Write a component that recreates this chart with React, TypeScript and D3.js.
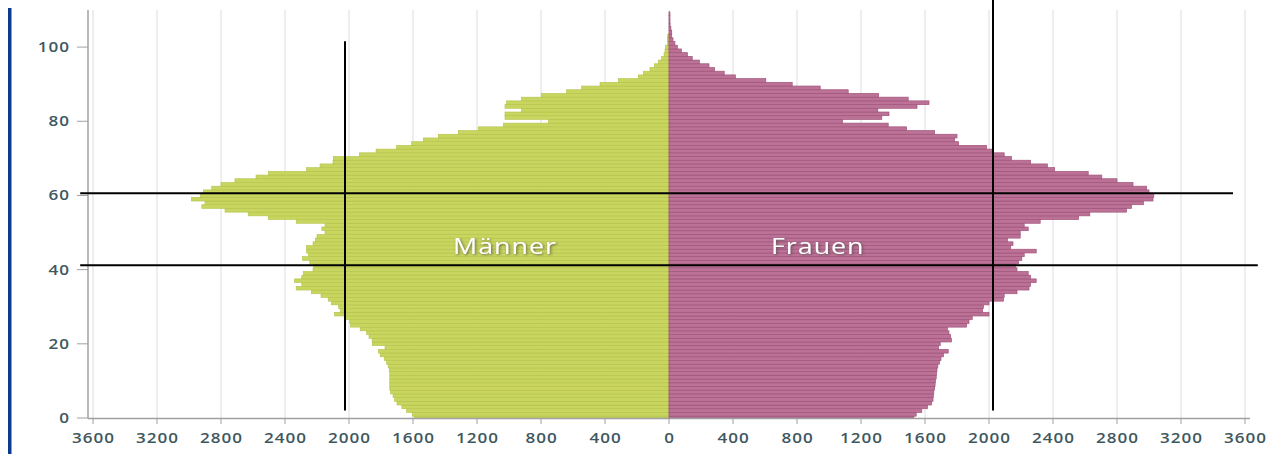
import React from "react";
import * as d3 from "d3";

// ages 0..109
const ages: number[] = Array.from({ length: 110 }, (_, i) => i);

const maenner: number[] = [
  1590, 1605, 1640, 1670, 1700, 1715, 1725, 1740, 1745, 1745,
  1745, 1745, 1745, 1748, 1755, 1765, 1780, 1805, 1815, 1775,
  1855, 1855, 1875, 1890, 1930, 1990, 1995, 2025, 2090, 2055,
  2065, 2110, 2130, 2175, 2235, 2330, 2295, 2340, 2295, 2285,
  2225, 2220, 2245, 2290, 2255, 2265, 2265, 2225, 2210, 2200,
  2150, 2170, 2150, 2330, 2505, 2630, 2775, 2920, 2900, 2985,
  2930, 2910, 2858, 2800, 2713, 2581, 2504, 2265, 2181, 2100,
  2098, 1935, 1831, 1702, 1608, 1535, 1442, 1317, 1192, 1035,
  754, 1025, 1025, 921, 1025, 1015, 921, 796, 640, 546,
  431, 317, 192, 160, 119, 92, 67, 46, 31, 25,
  21, 10, 10, 8, 0, 0, 0, 0, 0, 0,
];

const frauen: number[] = [
  1530, 1545, 1580, 1615, 1640, 1650, 1652, 1655, 1660, 1663,
  1665, 1670, 1672, 1675, 1680, 1690, 1700, 1715, 1745, 1685,
  1695, 1765, 1760, 1750, 1740, 1860, 1875, 1895, 2000, 1960,
  1965, 2000, 2090, 2095, 2175, 2250, 2260, 2295, 2260, 2245,
  2175, 2165, 2185, 2205, 2220, 2295, 2135, 2150, 2115, 2195,
  2195, 2245, 2220, 2320, 2560, 2630, 2860, 2890, 2965, 3025,
  3030, 3000, 2985, 2900, 2800, 2705, 2620, 2410, 2365, 2260,
  2140, 2095, 2020, 1985, 1810, 1785, 1800, 1660, 1485, 1370,
  1085, 1330, 1375, 1305, 1550, 1625, 1495, 1310, 1120, 945,
  770, 605, 415, 345, 285, 250, 190, 145, 115, 77,
  52, 37, 25, 17, 17, 12, 7, 6, 6, 6,
];

const xTicks: number[] = [-3600, -3200, -2800, -2400, -2000, -1600, -1200, -800, -400, 0, 400, 800, 1200, 1600, 2000, 2400, 2800, 3200, 3600];
const yTicks: number[] = [0, 20, 40, 60, 80, 100];

// annotation reference lines (data units)
const refAges: number[] = [60.6, 41.2];
const refAgeXEnds: number[][] = [[-3680, 3525], [-3680, 3680]];
const refValues: number[] = [-2025, 2025];
const refValueYEnds: number[][] = [[2, 101.6], [2, 113]];

const seriesLabels: string[] = ["Männer", "Frauen"];
const labelPos: number[][] = [[-1025, 44.2], [930, 44.2]];

export default function App() {
  const W = 1285;
  const H = 454;
  const x = d3.scaleLinear().domain([-3600, 3600]).range([93, 1245]);
  const y = d3.scaleLinear().domain([0, 110]).range([418, 10]);
  const tickColor = "#3e5861";
  const font = "'Open Sans', 'Noto Sans', sans-serif";
  const stretch = 1.22;

  const barRect = (a: number) => {
    const top = y(a + 0.5);
    const bottom = Math.min(y(a - 0.5), y(0));
    return { top, h: bottom - top };
  };

  return (
    <svg
      width={W}
      height={H}
      style={{ position: "absolute", left: 0, top: 0, background: "#fff" }}
      fontFamily={font}
    >
      <defs>
        <filter id="tshadow" x="-20%" y="-40%" width="140%" height="180%">
          <feDropShadow dx="1" dy="1" stdDeviation="1.3" floodColor="#444" floodOpacity="0.75" />
        </filter>
      </defs>
      {/* left blue border */}
      <rect x={8} y={8} width={3.5} height={H - 8} fill="#0b3b8f" />

      {/* gridlines */}
      {xTicks.map((t) => (
        <line key={"g" + t} x1={x(t)} x2={x(t)} y1={y(110)} y2={y(0)} stroke="#e8e8e8" strokeWidth={1.5} />
      ))}

      {/* men bars */}
      {ages.map((a, i) => {
        const v = maenner[i];
        if (!v) return null;
        const r = barRect(a);
        return (
          <rect key={"m" + a} x={x(-v)} y={r.top} width={x(0) - x(-v)} height={r.h}
            fill="#c8d55e" stroke="#b4c24b" strokeWidth={0.6} />
        );
      })}
      {/* women bars */}
      {ages.map((a, i) => {
        const v = frauen[i];
        if (!v) return null;
        const r = barRect(a);
        return (
          <rect key={"f" + a} x={x(0)} y={r.top} width={x(v) - x(0)} height={r.h}
            fill="#bb7296" stroke="#a0537a" strokeWidth={0.7} />
        );
      })}

      {/* y axis */}
      <line x1={88} x2={88} y1={y(110)} y2={y(0) + 0.5} stroke="#a0a0a0" strokeWidth={1.5} />
      {yTicks.map((t) => (
        <g key={"y" + t}>
          <line x1={77} x2={88} y1={y(t)} y2={y(t)} stroke="#a0a0a0" strokeWidth={1} />
          <text transform={`translate(70, ${y(t) + 5}) scale(${stretch}, 1)`} textAnchor="end" fontSize={14}
            fontWeight={600} fill={tickColor} letterSpacing={0.8}>
            {t}
          </text>
        </g>
      ))}

      {/* x axis */}
      <line x1={88} x2={1250} y1={y(0) + 0.5} y2={y(0) + 0.5} stroke="#a0a0a0" strokeWidth={1.5} />
      {xTicks.map((t) => (
        <g key={"x" + t}>
          <line x1={x(t)} x2={x(t)} y1={y(0)} y2={y(0) + 6} stroke="#a0a0a0" strokeWidth={1} />
          <text transform={`translate(${x(t) + 0.5}, 443) scale(${stretch}, 1)`} textAnchor="middle" fontSize={14}
            fontWeight={600} fill={tickColor} letterSpacing={0.8}>
            {Math.abs(t)}
          </text>
        </g>
      ))}

      {/* series labels */}
      {seriesLabels.map((s, i) => (
        <text key={s} transform={`translate(${x(labelPos[i][0])}, ${y(labelPos[i][1])}) scale(${stretch}, 1)`}
          textAnchor="middle" fontSize={22} fontWeight={500}
          fill="#ffffff" letterSpacing={0.8} filter="url(#tshadow)">
          {s}
        </text>
      ))}

      {/* reference lines */}
      {refAges.map((a, i) => (
        <line key={"ra" + i} x1={x(refAgeXEnds[i][0])} x2={x(refAgeXEnds[i][1])} y1={y(a)} y2={y(a)}
          stroke="#000" strokeWidth={2} />
      ))}
      {refValues.map((v, i) => (
        <line key={"rv" + i} x1={x(v)} x2={x(v)} y1={y(refValueYEnds[i][0])} y2={y(refValueYEnds[i][1])}
          stroke="#000" strokeWidth={2} />
      ))}
    </svg>
  );
}
